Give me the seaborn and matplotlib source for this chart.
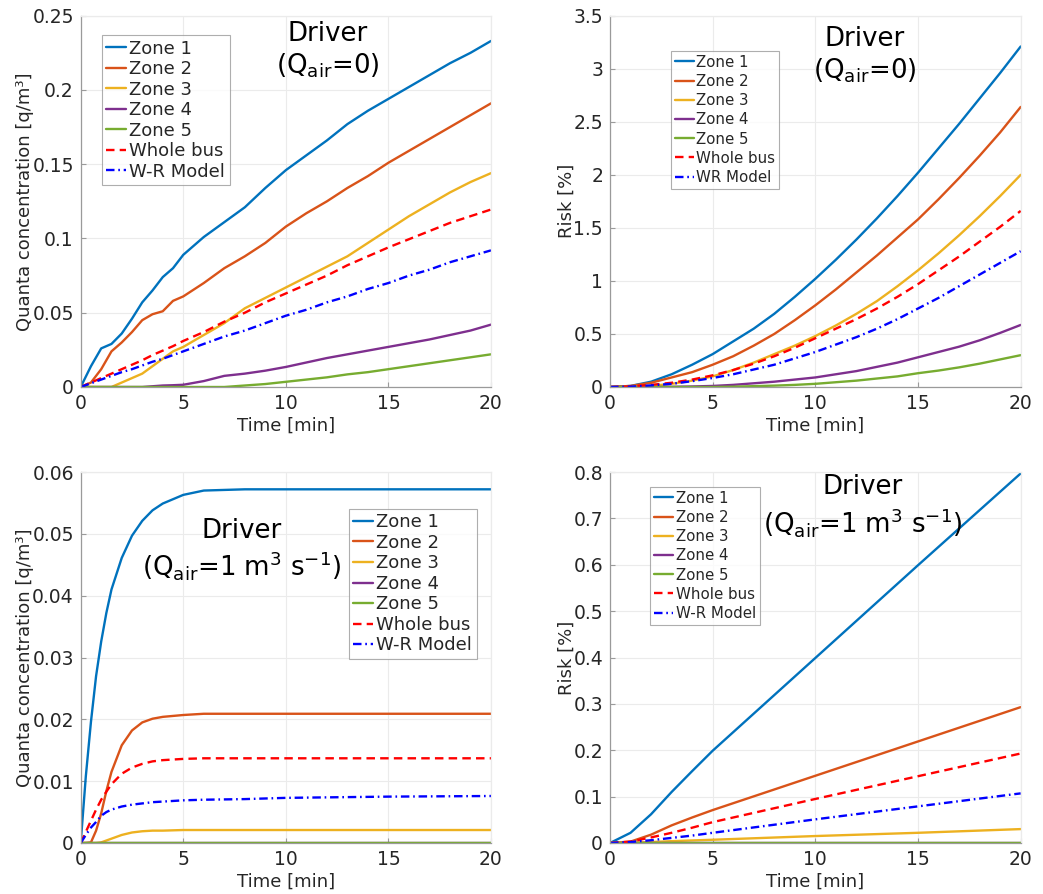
import numpy as np
import pandas as pd
import matplotlib
matplotlib.use("Agg")
import matplotlib.pyplot as plt
import seaborn as sns
from matplotlib.ticker import FuncFormatter, MultipleLocator

sns.set_style("ticks")
plt.rcParams['font.family'] = ['DejaVu Sans']
plt.rcParams['mathtext.fontset'] = 'dejavusans'

labels_a = ["Zone 1", "Zone 2", "Zone 3", "Zone 4", "Zone 5", "Whole bus", "W-R Model"]
labels_b = ["Zone 1", "Zone 2", "Zone 3", "Zone 4", "Zone 5", "Whole bus", "WR Model"]

# Panel A: concentration, Qair = 0
t_a = [0, 0.5, 1, 1.5, 2, 2.5, 3, 3.5, 4, 4.5, 5, 6, 7, 8, 9, 10, 11, 12, 13, 14, 15, 16, 17, 18, 19, 20]
a_z1 = [0, 0.014, 0.026, 0.029, 0.036, 0.046, 0.057, 0.065, 0.074, 0.080, 0.089, 0.101, 0.111, 0.121, 0.134, 0.146, 0.156, 0.166, 0.177, 0.186, 0.194, 0.202, 0.210, 0.218, 0.225, 0.233]
a_z2 = [0, 0.003, 0.012, 0.024, 0.030, 0.037, 0.045, 0.049, 0.051, 0.058, 0.061, 0.070, 0.080, 0.088, 0.097, 0.108, 0.117, 0.125, 0.134, 0.142, 0.151, 0.159, 0.167, 0.175, 0.183, 0.191]
a_z3 = [0, 0, 0, 0, 0.003, 0.006, 0.009, 0.014, 0.019, 0.024, 0.027, 0.035, 0.043, 0.053, 0.060, 0.067, 0.074, 0.081, 0.088, 0.097, 0.106, 0.115, 0.123, 0.131, 0.138, 0.144]
a_z4 = [0, 0, 0, 0, 0, 0, 0, 0.0005, 0.001, 0.0012, 0.0015, 0.004, 0.0075, 0.009, 0.011, 0.0135, 0.0165, 0.0195, 0.022, 0.0245, 0.027, 0.0295, 0.032, 0.035, 0.038, 0.042]
a_z5 = [0, 0, 0, 0, 0, 0, 0, 0, 0, 0, 0, 0, 0, 0.001, 0.002, 0.0035, 0.005, 0.0065, 0.0085, 0.010, 0.012, 0.014, 0.016, 0.018, 0.020, 0.022]
a_wb = [0, 0.003, 0.006, 0.009, 0.012, 0.015, 0.018, 0.0215, 0.0245, 0.0275, 0.031, 0.037, 0.044, 0.050, 0.057, 0.063, 0.069, 0.075, 0.082, 0.088, 0.094, 0.0995, 0.105, 0.1105, 0.115, 0.1195]
a_wr = [0, 0.0025, 0.005, 0.0075, 0.010, 0.012, 0.0145, 0.017, 0.019, 0.0215, 0.024, 0.029, 0.034, 0.038, 0.043, 0.048, 0.052, 0.057, 0.061, 0.066, 0.070, 0.075, 0.079, 0.084, 0.088, 0.092]

# Panel B: risk, Qair = 0
t_b = [0, 1, 2, 3, 4, 5, 6, 7, 8, 9, 10, 11, 12, 13, 14, 15, 16, 17, 18, 19, 20]
b_z1 = [0, 0.01, 0.05, 0.12, 0.21, 0.31, 0.43, 0.55, 0.69, 0.85, 1.02, 1.2, 1.39, 1.59, 1.80, 2.02, 2.25, 2.48, 2.72, 2.96, 3.21]
b_z2 = [0, 0.01, 0.04, 0.09, 0.14, 0.21, 0.29, 0.39, 0.50, 0.63, 0.77, 0.92, 1.08, 1.24, 1.41, 1.58, 1.77, 1.97, 2.18, 2.40, 2.64]
b_z3 = [0, 0, 0.01, 0.03, 0.06, 0.10, 0.16, 0.23, 0.31, 0.39, 0.48, 0.58, 0.69, 0.81, 0.95, 1.10, 1.26, 1.43, 1.61, 1.80, 2.0]
b_z4 = [0, 0, 0, 0.002, 0.005, 0.01, 0.02, 0.035, 0.05, 0.07, 0.09, 0.12, 0.15, 0.19, 0.23, 0.28, 0.33, 0.38, 0.44, 0.51, 0.585]
b_z5 = [0, 0, 0, 0, 0, 0, 0.003, 0.008, 0.013, 0.02, 0.03, 0.045, 0.06, 0.08, 0.10, 0.13, 0.155, 0.185, 0.22, 0.26, 0.30]
b_wb = [0, 0.005, 0.02, 0.04, 0.07, 0.11, 0.16, 0.22, 0.29, 0.37, 0.46, 0.55, 0.64, 0.74, 0.85, 0.97, 1.1, 1.23, 1.37, 1.51, 1.66]
b_wr = [0, 0.003, 0.015, 0.03, 0.055, 0.085, 0.12, 0.165, 0.21, 0.27, 0.33, 0.40, 0.47, 0.55, 0.64, 0.74, 0.84, 0.95, 1.06, 1.17, 1.28]

# Panel C: concentration, Qair = 1 m3/s
t_c = [0, 0.25, 0.5, 0.75, 1, 1.25, 1.5, 2, 2.5, 3, 3.5, 4, 5, 6, 8, 10, 15, 20]
c_z1 = [0, 0.0108, 0.0196, 0.0270, 0.0326, 0.0372, 0.0410, 0.0461, 0.0497, 0.0521, 0.0538, 0.0549, 0.0563, 0.0570, 0.0572, 0.0572, 0.0572, 0.0572]
c_z2 = [0, 0, 0.0001, 0.0020, 0.0048, 0.0084, 0.0115, 0.0158, 0.0182, 0.0195, 0.0201, 0.0204, 0.0207, 0.0209, 0.0209, 0.0209, 0.0209, 0.0209]
c_z3 = [0, 0, 0, 0, 0.0001, 0.0004, 0.0007, 0.0013, 0.0017, 0.0019, 0.0020, 0.0020, 0.0021, 0.0021, 0.0021, 0.0021, 0.0021, 0.0021]
c_z4 = [0] * 18
c_z5 = [0] * 18
c_wb = [0, 0.0018, 0.0036, 0.0054, 0.0070, 0.0083, 0.0095, 0.0112, 0.0122, 0.0128, 0.0132, 0.0134, 0.0136, 0.0137, 0.0137, 0.0137, 0.0137, 0.0137]
c_wr = [0, 0.0013, 0.0025, 0.0034, 0.0044, 0.0050, 0.0054, 0.0059, 0.0062, 0.0064, 0.0066, 0.0067, 0.0069, 0.0070, 0.0071, 0.0073, 0.0075, 0.0076]

# Panel D: risk, Qair = 1 m3/s
t_d = [0, 1, 2, 3, 4, 5, 10, 15, 20]
d_z1 = [0, 0.022, 0.062, 0.11, 0.155, 0.199, 0.399, 0.599, 0.797]
d_z2 = [0, 0.003, 0.018, 0.038, 0.055, 0.071, 0.145, 0.219, 0.293]
d_z3 = [0, 0.001, 0.002, 0.004, 0.0055, 0.007, 0.015, 0.022, 0.030]
d_z4 = [0] * 9
d_z5 = [0] * 9
d_wb = [0, 0.003, 0.012, 0.022, 0.033, 0.045, 0.095, 0.144, 0.193]
d_wr = [0, 0.002, 0.006, 0.011, 0.016, 0.022, 0.051, 0.079, 0.107]

colors = ["#0072BD", "#D95319", "#EDB120", "#7E2F8E", "#77AC30", "#FF0000", "#0000FF"]
styles = ["-", "-", "-", "-", "-", "--", "-."]
dash_patterns = {"--": (3.6, 2.2), "-.": (3.6, 1.6, 0.7, 1.6)}

W, H = 1043, 894
fig = plt.figure(figsize=(W / 100, H / 100), dpi=100)

def frac_rect(x0, x1, ytop, ybot):
    return [x0 / W, 1 - ybot / H, (x1 - x0) / W, (ybot - ytop) / H]

gfmt = FuncFormatter(lambda v, p: ("%g" % round(v, 6)))
tick_col = "#262626"
spine_col = "#9a9a9a"
grid_col = "#ebebeb"

def panel(rect, t, series, labels, ymax, ystep, ylabel, title, tpos, legpos, legfs, legsp, hl):
    ax = fig.add_axes(rect)
    for vals, lab, col, ls in zip(series, labels, colors, styles):
        sns.lineplot(x=t, y=vals, ax=ax, color=col, linewidth=1.7, label=lab, linestyle=ls)
        if ls in dash_patterns:
            ax.lines[-1].set_dashes(dash_patterns[ls])
    ax.set_xlim(0, 20)
    ax.set_ylim(0, ymax)
    ax.xaxis.set_major_locator(MultipleLocator(5))
    ax.yaxis.set_major_locator(MultipleLocator(ystep))
    ax.yaxis.set_major_formatter(gfmt)
    ax.grid(True, color=grid_col, linewidth=0.8)
    ax.set_axisbelow(True)
    for side, s in ax.spines.items():
        s.set_visible(True)
        s.set_linewidth(0.9)
        s.set_color(spine_col if side in ("left", "bottom") else grid_col)
    ax.tick_params(direction="in", length=3.5, width=0.8, colors=spine_col,
                   labelcolor=tick_col, labelsize=13.5, top=False, right=False, pad=5)
    ax.set_xlabel("Time [min]", fontsize=13, color=tick_col, labelpad=3)
    ax.set_ylabel(ylabel, fontsize=13, color=tick_col, labelpad=-1.5)
    ax.text(tpos[0], tpos[1], title, transform=ax.transAxes, ha="center", va="center",
            fontsize=18.7, color="black", linespacing=1.2)
    leg = ax.legend(loc="upper left", bbox_to_anchor=legpos, borderaxespad=0,
                    fontsize=legfs, frameon=True, fancybox=False, handlelength=hl,
                    handletextpad=0.18, labelspacing=legsp, borderpad=0.25)
    leg.get_frame().set_edgecolor(spine_col)
    leg.get_frame().set_linewidth(0.8)
    return ax

qlabel = "Quanta concentration [q/m\u00b3]"
t0 = "Driver\n(Q$_\\mathrm{air}$=0)"
t1 = "Driver\n(Q$_\\mathrm{air}$=1 m$^3$ s$^{\\mathrm{-1}}$)"

panel(frac_rect(80.7, 491, 15.7, 387), t_a, [a_z1, a_z2, a_z3, a_z4, a_z5, a_wb, a_wr],
      labels_a, 0.25, 0.05, qlabel, t0, (0.603, 0.906), (0.051, 0.948), 13, 0.14, 1.1)
panel(frac_rect(610, 1020.7, 15.7, 387), t_b, [b_z1, b_z2, b_z3, b_z4, b_z5, b_wb, b_wr],
      labels_b, 3.5, 0.5, "Risk [%]", t0, (0.621, 0.893), (0.1485, 0.905), 10.8, 0.28, 1.27)
panel(frac_rect(80.7, 491, 472, 843), t_c, [c_z1, c_z2, c_z3, c_z4, c_z5, c_wb, c_wr],
      labels_a, 0.06, 0.01, qlabel, t1, (0.392, 0.789), (0.653, 0.901), 13, 0.14, 1.1)
panel(frac_rect(610, 1020.7, 472, 843), t_d, [d_z1, d_z2, d_z3, d_z4, d_z5, d_wb, d_wr],
      labels_a, 0.8, 0.1, "Risk [%]", t1, (0.615, 0.907), (0.0974, 0.9596), 10.8, 0.28, 1.27)

fig.savefig("out.png", dpi=100, facecolor="white")
